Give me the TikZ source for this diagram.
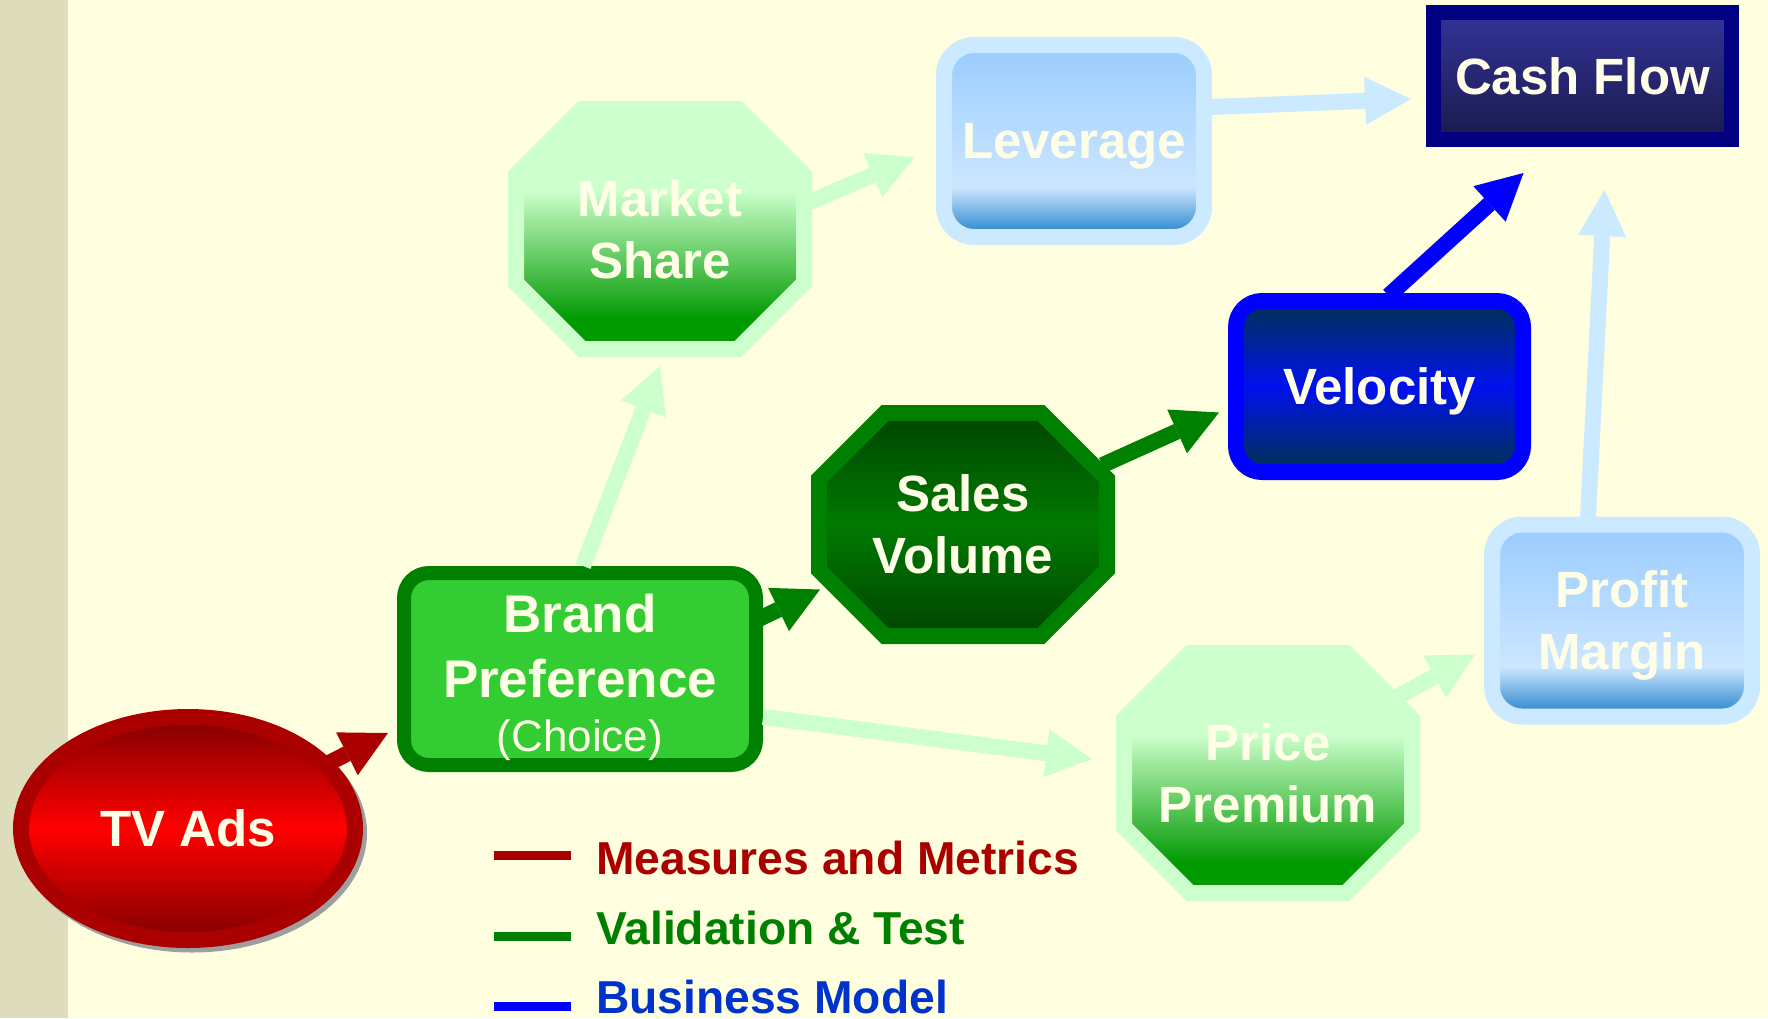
\documentclass[tikz,border=0pt]{standalone}
\usepackage{fontspec}
\setmainfont{Liberation Sans}
\usetikzlibrary{calc,shapes.geometric,shapes.misc,arrows.meta}

\definecolor{cream}{RGB}{255,255,224}
\definecolor{strip}{RGB}{221,221,187}
\definecolor{wordcol}{RGB}{255,255,232}
\definecolor{mred}{RGB}{170,0,0}
\definecolor{tvdark}{RGB}{128,0,0}
\definecolor{vgreen}{RGB}{0,128,0}
\definecolor{leafgreen}{RGB}{51,204,51}
\definecolor{deepgreen}{RGB}{0,68,0}
\definecolor{midgreen}{RGB}{0,122,0}
\definecolor{octgreen}{RGB}{0,153,0}
\definecolor{palegreen}{RGB}{204,255,204}
\definecolor{paleblue}{RGB}{204,234,255}
\definecolor{skytop}{RGB}{153,204,255}
\definecolor{skypale}{RGB}{204,230,255}
\definecolor{skydeep}{RGB}{42,136,204}
\definecolor{bblue}{RGB}{0,0,255}
\definecolor{velend}{RGB}{0,51,77}
\definecolor{velmid}{RGB}{0,17,238}
\definecolor{navy}{RGB}{0,0,128}
\definecolor{cashtop}{RGB}{51,51,153}
\definecolor{cashbot}{RGB}{26,26,77}
\definecolor{legblue}{RGB}{0,51,204}

% pale top fading into green (market share, price premium)
\pgfdeclareverticalshading{fadegreen}{100bp}{color(0bp)=(octgreen);
  color(31bp)=(octgreen); color(58bp)=(palegreen); color(100bp)=(palegreen)}
% light blue with a darker band at the bottom (leverage, profit margin)
\pgfdeclareverticalshading{fadesky}{100bp}{color(0bp)=(skydeep);
  color(26bp)=(skydeep); color(38bp)=(skypale); color(75bp)=(skytop);
  color(100bp)=(skytop)}

\begin{document}
\begin{tikzpicture}[x=1pt,y=-1pt]
        \tikzstyle{lbl}  = [text=wordcol, align=center, inner sep=0pt, text depth=0pt,
                            font=\fontsize{51}{62}\selectfont\bfseries]
        \tikzstyle{oct}  = [lbl, chamfered rectangle, chamfered rectangle sep=33pt,
                            line width=16pt, minimum width=288pt, minimum height=240pt]
        \tikzstyle{pale} = [oct, draw=palegreen, shade, shading=fadegreen]
        \tikzstyle{sky}  = [lbl, rectangle, rounded corners=30pt, line width=16pt,
                            draw=paleblue, shade, shading=fadesky,
                            minimum width=260pt, minimum height=192pt]
        \tikzstyle{arr}  = [line width=16pt,
                            -{Triangle[length=46pt,width=48pt,line width=0pt]}]
        \tikzstyle{key}  = [anchor=base west, inner sep=0pt,
                            font=\fontsize{46.2}{50}\selectfont\bfseries]
        \tikzstyle{keyline} = [line width=9pt]

        \useasboundingbox (0,0) rectangle (1768,1018);
        \fill[cream] (0,0) rectangle (1768,1018);
        \fill[strip] (0,0) rectangle (68,1018);

        % shadow under the ellipse
        \fill[black!38] (192,833) ellipse (175 and 119.5);

        \node(tv)       [lbl, ellipse, draw=mred, line width=16pt,
                         top color=tvdark, bottom color=tvdark, middle color=red,
                         minimum width=334pt, minimum height=223pt]
                        at (188,828.5) {TV Ads};
        \node(brand)    [lbl, rectangle, rounded corners=25pt, line width=14pt,
                         draw=vgreen, fill=leafgreen,
                         font=\fontsize{53}{65}\selectfont\bfseries,
                         minimum width=352pt, minimum height=192pt]
                        at (580,669)
                        {\rule{0pt}{45pt}Brand\\Preference\\[-11pt]{\fontsize{44}{50}\selectfont\mdseries(Choice)}};
        \node(market)   [pale] at (660,229) {Market\\Share};
        \node(sales)    [oct, draw=vgreen, top color=deepgreen,
                         bottom color=deepgreen, middle color=midgreen,
                         minimum height=223pt] at (963,524.5) {Sales\\Volume};
        \node(price)    [pale] at (1268,773) {Price\\Premium};
        \node(leverage) [sky] at (1074,141) {Leverage};
        \node(profit)   [sky] at (1622,620.5) {Profit\\Margin};
        \node(velocity) [lbl, rectangle, rounded corners=26pt, line width=16pt,
                         draw=bblue, top color=velend, bottom color=velend,
                         middle color=velmid,
                         minimum width=287pt, minimum height=171pt]
                        at (1379.5,386.5) {Velocity};
        \node(cash)     [lbl, rectangle, line width=15pt, draw=navy,
                         top color=cashtop, bottom color=cashbot,
                         minimum width=298pt, minimum height=127pt]
                        at (1582.5,76) {Cash Flow};

        \draw[arr, mred, shorten <=-4pt] (tv.25) -- ($(brand.south west)+(-9,-39)$);
        \draw[arr, vgreen, shorten <=-4pt] ($(brand.north east)+(0,51)$) -- ($(sales.west)+(9,65)$);
        \draw[arr, palegreen] ($(brand.north)+(3,0)$) -- ($(market.south)+(0,9)$);
        \draw[arr, palegreen] ($(brand.east)+(0,48)$) -- ($(price.west)+(-24,-14)$);
        \draw[arr, palegreen, shorten <=-4pt] ($(market.east)+(0,-28)$) -- ($(leverage.west)+(-21,16)$);
        \draw[arr, paleblue, shorten <=-4pt] ($(leverage.east)+(0,-34)$) -- ($(cash.west)+(-15,23)$);
        \draw[arr, vgreen, shorten <=-4pt] ($(sales.east)+(-9,-61)$) -- ($(velocity.west)+(-9,26)$);
        \draw[arr, bblue, shorten <=-4pt] ($(velocity.north)+(12,0)$) -- ($(cash.south)+(-59,26)$);
        \draw[arr, paleblue, shorten <=-4pt] ($(profit.north)+(-34,0)$) -- ($(cash.south)+(22,43)$);
        \draw[arr, palegreen, shorten <=-4pt] ($(price.east)+(-23,-76)$) -- ($(profit.west)+(-9,34)$);

        % legend
        \draw[keyline, mred]  (494,855)  -- (571,855);
        \draw[keyline, vgreen] (494,936) -- (571,936);
        \draw[keyline, bblue] (494,1006) -- (571,1006);
        \node(measures)   [key, text=mred]    at (596,874)  {Measures and Metrics};
        \node(validation) [key, text=vgreen]  at (596,944)  {Validation \& Test};
        \node(business)   [key, text=legblue] at (596,1013) {Business Model};
\end{tikzpicture}
\end{document}
